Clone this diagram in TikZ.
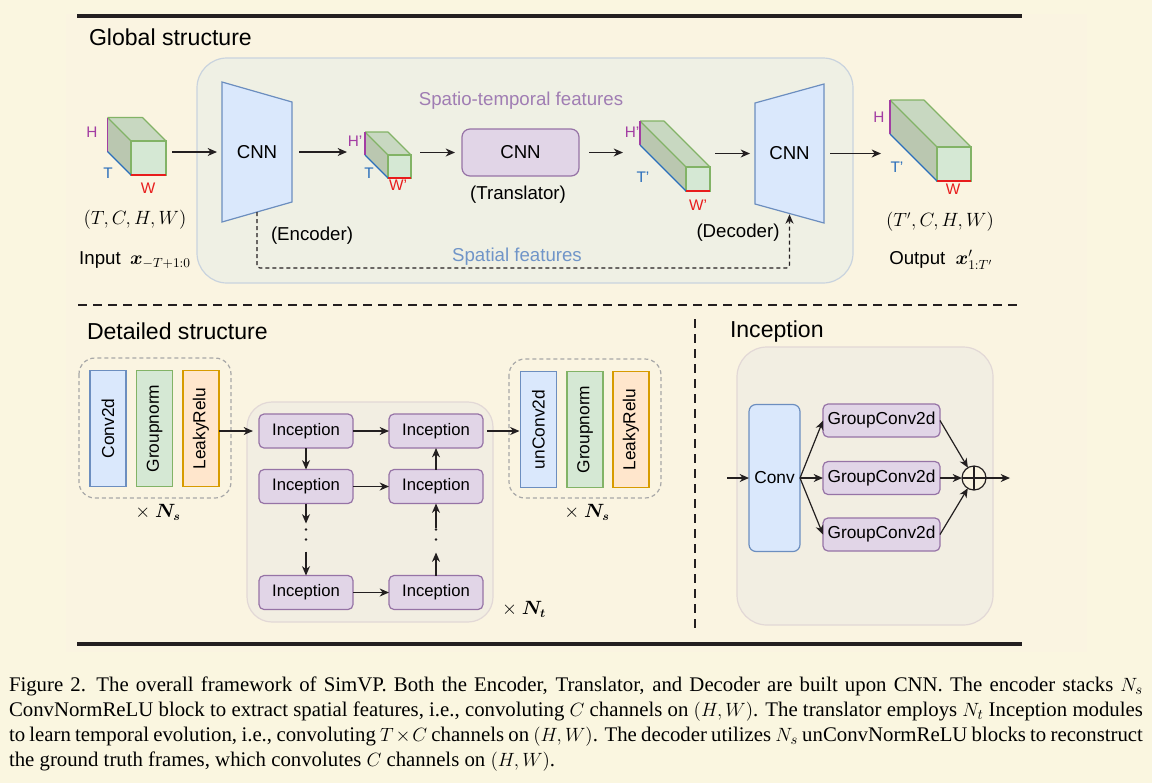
\documentclass[tikz,border=0pt]{standalone}
\usepackage{amsmath}
\usepackage[no-math]{fontspec}
\setmainfont{Liberation Sans}
\newfontfamily\capfont{Liberation Serif}
\usetikzlibrary{arrows.meta,calc}

\newlength\pxu
\setlength\pxu{0.75pt}

\definecolor{pagebg}{HTML}{FAF6E0}
\definecolor{figbg}{HTML}{FAF4E1}
\definecolor{globfill}{HTML}{EFF0E4}
\definecolor{globedge}{HTML}{C9D3DE}
\definecolor{bluefill}{HTML}{DAE8FC}
\definecolor{blueedge}{HTML}{6C8EBF}
\definecolor{greenfill}{HTML}{D5E8D4}
\definecolor{greenedge}{HTML}{82B366}
\definecolor{cubetop}{HTML}{C8D8C1}
\definecolor{cubeleft}{HTML}{BAC7B0}
\definecolor{purplefill}{HTML}{E1D5E7}
\definecolor{purpleedge}{HTML}{9673A6}
\definecolor{orangefill}{HTML}{FFE6CC}
\definecolor{orangeedge}{HTML}{D79B00}
\definecolor{incfill}{HTML}{F2EEE2}
\definecolor{incedge}{HTML}{E2D8D6}
\definecolor{hcol}{HTML}{A33DA3}
\definecolor{tcol}{HTML}{2A6EBB}
\definecolor{wcol}{HTML}{E81C1C}
\definecolor{stcol}{HTML}{A07DB3}
\definecolor{spcol}{HTML}{7095C8}
\definecolor{ink}{HTML}{231F20}
\definecolor{dashgrey}{HTML}{A8A8A8}

\tikzset{
  >={Stealth[length=7pt,width=6pt,inset=2.2pt]},
  every node/.style={inner sep=0pt, outer sep=0pt},
  arr/.style={->, draw=ink, line width=0.9pt},
  lbl/.style={font=\fontsize{14}{16}\selectfont},
  mathlbl/.style={font=\fontsize{13.5}{16}\selectfont},
  dimlbl/.style={font=\fontsize{11.5}{13}\selectfont},
  heading/.style={anchor=west, font=\fontsize{17.3}{20}\selectfont},
  face/.style={draw=greenedge, fill=greenfill, line width=0.9pt},
  cubeedge/.style={draw=greenedge, line width=0.9pt, line join=round},
  hedge/.style={draw=hcol, line width=0.9pt},
  tedge/.style={draw=tcol, line width=0.9pt},
  wedge/.style={draw=wcol, line width=0.9pt},
  cnnshape/.style={draw=blueedge, fill=bluefill, line width=0.9pt},
  layer/.style={rotate=90, minimum width=87pt, minimum height=27pt,
    line width=0.9pt, font=\fontsize{13}{15}\selectfont},
  incnode/.style={draw=purpleedge, fill=purplefill, rounded corners=3.75pt,
    minimum width=70.5pt, minimum height=25.5pt, line width=0.9pt,
    font=\fontsize{12.5}{14}\selectfont},
  gcnode/.style={draw=purpleedge, fill=purplefill, rounded corners=3.75pt,
    minimum width=87.75pt, minimum height=24.75pt, line width=0.9pt,
    font=\fontsize{13}{15}\selectfont},
  repbox/.style={draw=dashgrey, line width=0.9pt, dash pattern=on 3pt off 2.25pt,
    rounded corners=12pt},
  dotline/.style={draw=ink, line width=2pt, line cap=round,
    dash pattern=on 0pt off 7.5pt},
  sepline/.style={draw=ink, line width=2.2pt, dash pattern=on 6.75pt off 4.5pt},
  rule/.style={draw=ink, line width=3pt},
}

% a feature tensor: name, x, y of front top-left corner, width, height, depth
\newcommand\featcube[6]{%
  \fill[cubeleft] (#2-#6,#3-#6) -- (#2,#3) -- (#2,#3+#5) -- (#2-#6,#3+#5-#6) -- cycle;
  \fill[cubetop] (#2-#6,#3-#6) -- (#2+#4-#6,#3-#6) -- (#2+#4,#3) -- (#2,#3) -- cycle;
  \draw[cubeedge] (#2-#6,#3-#6) -- (#2+#4-#6,#3-#6) -- (#2+#4,#3)
    (#2-#6,#3-#6) -- (#2,#3);
  \node[face, minimum width=#4*0.75pt, minimum height=#5*0.75pt] (#1) at (#2+#4/2,#3+#5/2) {};
  \draw[hedge] (#2-#6,#3-#6) -- (#2-#6,#3+#5-#6);
  \draw[tedge] (#2-#6,#3+#5-#6) -- (#2,#3+#5);
  \draw[wedge] (#2,#3+#5) -- (#2+#4,#3+#5);
  \coordinate (#1-back) at (#2-#6,#3-#6);
}

\begin{document}
\begin{tikzpicture}[x=\pxu, y=-\pxu]
  \useasboundingbox (0,0) rectangle (1152,783);
  \fill[pagebg] (0,0) rectangle (1152,783);
  \fill[figbg] (66,14) rectangle (1087,652);

  % frame rules
  \draw[rule] (77,16) -- (1022,16);
  \draw[sepline] (78,305) -- (1022,305);
  \draw[rule] (77,644) -- (1022,644);
  \draw[sepline] (695,319) -- (695,634);

  \node[heading] (tglobal) at (89,37) {Global structure};
  \node[heading] (tdetail) at (87,331) {Detailed structure};
  \node[heading] (tincep) at (730,332) {Inception};

  % ---------------- global structure
  \draw[draw=globedge, fill=globfill, line width=0.9pt, rounded corners=22.5pt]
    (197,58) rectangle (853,283);

  \featcube{xin}{131}{141}{35}{34}{23.5}
  \node[dimlbl, text=hcol] (xinH) at (92,132) {H};
  \node[dimlbl, text=tcol] (xinT) at (108,173) {T};
  \node[dimlbl, text=wcol] (xinW) at (148,188) {W};
  \node[mathlbl] (xinshape) at (135,220) {$(T,C,H,W)$};
  \node[lbl] (xinname) at (135,260) {Input\hspace{0.5em}$\boldsymbol{x}_{-T+1:0}$};

  \draw[cnnshape] (222,82) -- (292,102) -- (292,202) -- (222,222) -- cycle;
  \node[lbl, minimum width=52.5pt, minimum height=105pt] (enc) at (257,152) {CNN};
  \node[lbl] (encname) at (312,236) {(Encoder)};

  \featcube{zenc}{388}{155}{23}{23}{23}
  \node[dimlbl, text=hcol] (zencH) at (355,141) {H'};
  \node[dimlbl, text=tcol] (zencT) at (369,173) {T};
  \node[dimlbl, text=wcol] (zencW) at (398,185) {W'};

  \node[lbl, text=stcol] (sttext) at (521,101) {Spatio-temporal features};
  \node[lbl, draw=purpleedge, fill=purplefill, line width=0.9pt, rounded corners=6pt,
    minimum width=87.75pt, minimum height=35.25pt] (trans) at (520.5,152.5) {CNN};
  \node[lbl] (transname) at (518,195) {(Translator)};

  \featcube{zdec}{686}{167}{24}{24}{46}
  \node[dimlbl, text=hcol] (zdecH) at (632,132) {H'};
  \node[dimlbl, text=tcol] (zdecT) at (643,177) {T'};
  \node[dimlbl, text=wcol] (zdecW) at (698,205) {W'};

  \draw[cnnshape] (755,103) -- (824,84) -- (824,223) -- (755,204) -- cycle;
  \node[lbl, minimum width=51.75pt, minimum height=104.25pt] (dec) at (789.5,153.5) {CNN};
  \node[lbl] (decname) at (738,233) {(Decoder)};

  \featcube{xout}{937}{147}{34}{34}{47}
  \node[dimlbl, text=hcol] (xoutH) at (879,117) {H};
  \node[dimlbl, text=tcol] (xoutT) at (897,167) {T'};
  \node[dimlbl, text=wcol] (xoutW) at (953,189) {W};
  \node[mathlbl] (xoutshape) at (940,222) {$(T',C,H,W)$};
  \node[lbl] (xoutname) at (941,260) {Output\hspace{0.55em}$\boldsymbol{x}'_{1:T'}$};

  \node[lbl, text=spcol] (sptext) at (517,257) {Spatial features};

  \draw[arr, shorten <=4.5pt, shorten >=3.75pt] (xin.east |- enc) -- (enc.west);
  \draw[arr, shorten <=5.25pt, shorten >=13.5pt] (enc.east) -- (enc -| zenc-back);
  \draw[arr, shorten <=6.75pt, shorten >=5.25pt] (zenc.east |- trans) -- (trans.west);
  \draw[arr, shorten <=7.5pt, shorten >=12.75pt] (trans.east) -- (trans -| zdec-back);
  \draw[arr, shorten <=3.75pt, shorten >=3.75pt] (zdec.east |- dec) -- (dec.west);
  \draw[arr, shorten <=4.5pt, shorten >=6.75pt] (dec.east) -- (dec -| xout-back);
  \draw[arr, dash pattern=on 3pt off 2.25pt, rounded corners=2.25pt]
    ([yshift=7.5pt]enc.south) -- ++(0,56) -| ([yshift=6.5pt]dec.south);

  % ---------------- detailed structure
  \draw[repbox] (79,358) rectangle (231,498);
  \node[layer, draw=blueedge, fill=bluefill] (conva) at (108,428.5) {Conv2d};
  \node[layer, draw=greenedge, fill=greenfill] (norma) at (154.5,428.5) {Groupnorm};
  \node[layer, draw=orangeedge, fill=orangefill] (relua) at (201,428.5) {LeakyRelu};
  \node[mathlbl] (repa) at (158,512) {$\times\ \boldsymbol{N_s}$};

  \draw[draw=incedge, fill=incfill, line width=0.9pt, rounded corners=18.75pt]
    (247,402) rectangle (493,622);
  \node[incnode] (inc11) at (306,431) {Inception};
  \node[incnode] (inc12) at (436,431) {Inception};
  \node[incnode] (inc21) at (306,486.5) {Inception};
  \node[incnode] (inc22) at (436,486.5) {Inception};
  \node[incnode] (inc31) at (306,592.5) {Inception};
  \node[incnode] (inc32) at (436,592.5) {Inception};
  \node[mathlbl] (repb) at (524,609) {$\times\ \boldsymbol{N_t}$};

  \draw[repbox] (509,359) rectangle (661,498);
  \node[layer, draw=blueedge, fill=bluefill] (convb) at (538.5,429.5) {unConv2d};
  \node[layer, draw=greenedge, fill=greenfill] (normb) at (585,429.5) {Groupnorm};
  \node[layer, draw=orangeedge, fill=orangefill] (relub) at (631,429.5) {LeakyRelu};
  \node[mathlbl] (repc) at (587,512) {$\times\ \boldsymbol{N_s}$};

  \draw[arr, shorten >=4.5pt] (relua.south |- inc11) -- (inc11.west);
  \draw[arr] (inc11) -- (inc12);
  \draw[arr] (inc11) -- (inc21);
  \draw[arr] (inc21) -- (inc22);
  \draw[arr] (inc31) -- (inc32);
  \draw[arr] (inc22) -- (inc12);
  \draw[arr] (inc21.south) -- ++(0,20);
  \draw[dotline] ($(inc21.south)+(0,26)$) -- ++(0,20);
  \draw[arr] ($(inc31.north)+(0,-24)$) -- (inc31.north);
  \draw[arr] (inc32.north) -- ++(0,-23);
  \draw[dotline] ($(inc22.south)+(0,26)$) -- ++(0,20);
  \draw[arr] ($(inc22.south)+(0,24)$) -- (inc22.south);
  \draw[arr, shorten <=3pt, shorten >=0.75pt] (inc12.east |- inc12) -- (convb.north |- inc12);

  % ---------------- inception module
  \draw[draw=incedge, fill=incfill, line width=0.9pt, rounded corners=22.5pt]
    (737,347) rectangle (993,625);
  \node[draw=blueedge, fill=bluefill, line width=0.9pt, rounded corners=5.25pt,
    minimum width=38.25pt, minimum height=110.25pt, font=\fontsize{13}{15}\selectfont]
    (conv) at (774.5,478) {Conv};
  \node[gcnode] (gc1) at (881.5,420.5) {GroupConv2d};
  \node[gcnode] (gc2) at (881.5,478) {GroupConv2d};
  \node[gcnode] (gc3) at (881.5,534.5) {GroupConv2d};
  \node[circle, draw=ink, fill=figbg, line width=0.9pt, minimum size=18pt] (plus) at (974,478) {};
  \draw[draw=ink, line width=0.9pt] (plus.north) -- (plus.south) (plus.west) -- (plus.east);
  \coordinate (incin) at (727,478);
  \coordinate (incout) at (1010,478);

  \draw[arr] (incin) -- (conv.west);
  \draw[arr] (conv.east) -- (gc1.west);
  \draw[arr] (conv.east) -- (gc2.west);
  \draw[arr] (conv.east) -- (gc3.west);
  \draw[arr] (gc1.east) -- (plus);
  \draw[arr] (gc2.east) -- (plus);
  \draw[arr] (gc3.east) -- (plus);
  \draw[arr] (plus.east) -- (incout);

  % ---------------- caption
  \node[anchor=north west, text width=850.5pt, align=justify,
    font=\capfont\fontsize{15.6}{18.6}\selectfont] (caption) at (9,677)
    {\hyphenpenalty=10000\relax
    Figure 2.\enspace The overall framework of SimVP. Both the Encoder, Translator, and
    Decoder are built upon CNN. The encoder stacks $N_s$\linebreak ConvNormReLU block to extract
    spatial features, i.e., convoluting $C$ channels on $(H,W)$. The translator employs
    $N_t$ Inception modules\linebreak to learn temporal evolution, i.e., convoluting $T\times C$
    channels on $(H,W)$. The decoder utilizes $N_s$ unConvNormReLU blocks to reconstruct\linebreak
    the ground truth frames, which convolutes $C$ channels on $(H,W)$.};
\end{tikzpicture}
\end{document}
